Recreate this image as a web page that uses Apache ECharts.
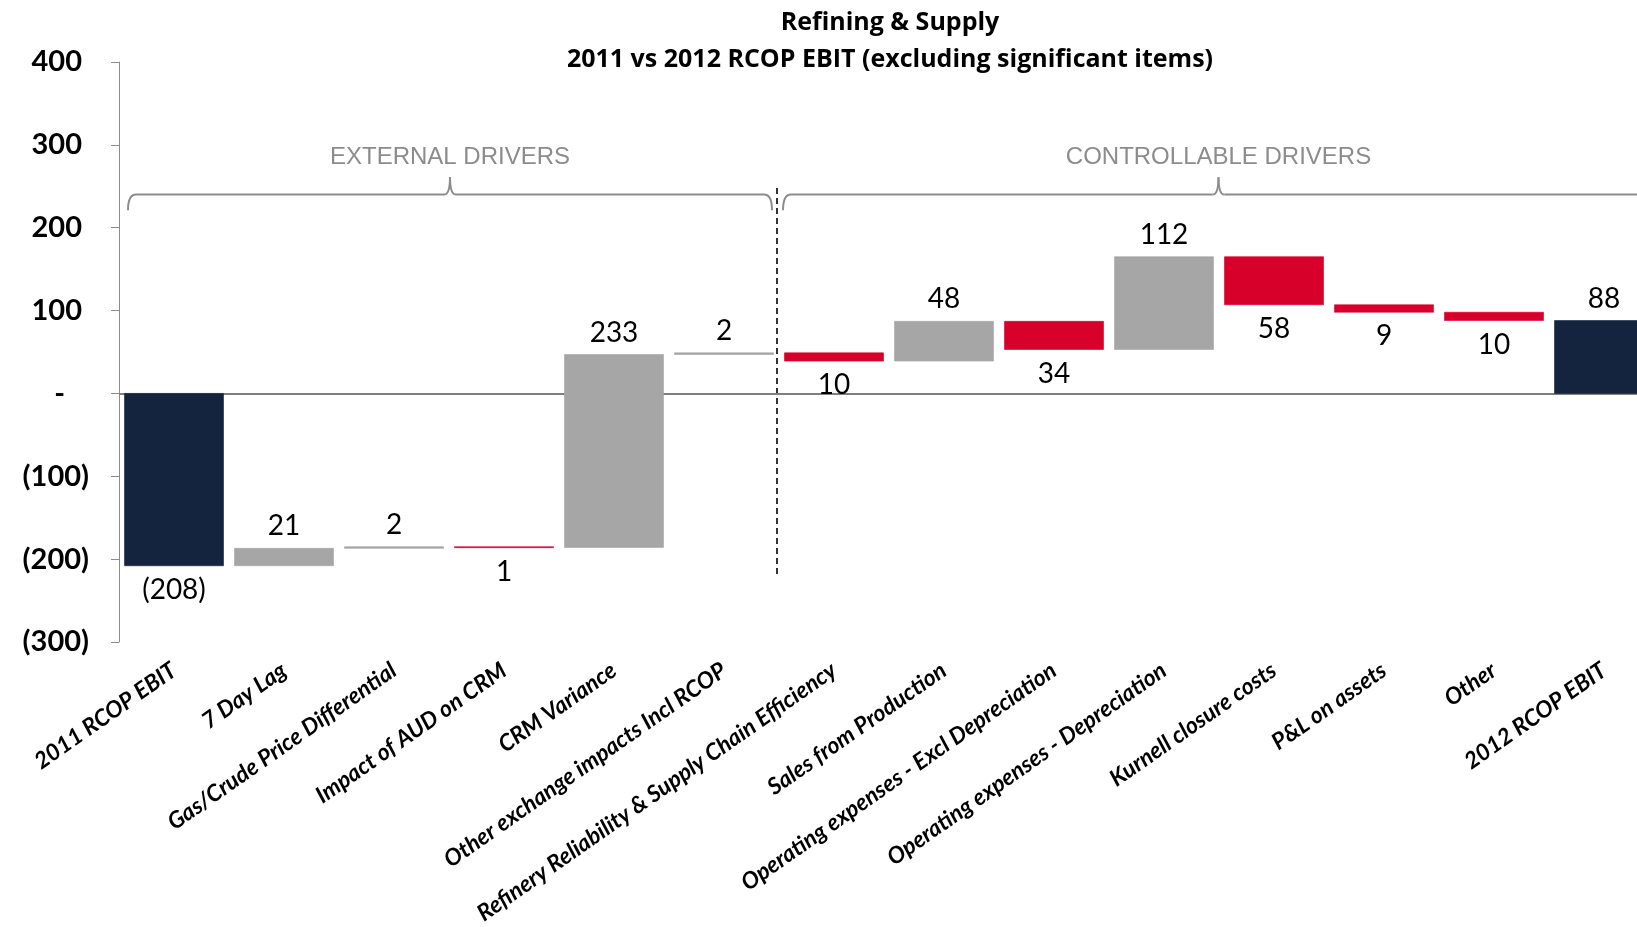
<!DOCTYPE html>
<html>
<head>
<meta charset="utf-8">
<title>Refining &amp; Supply – RCOP EBIT bridge</title>
<script src="https://cdn.jsdelivr.net/npm/echarts@6/dist/echarts.min.js"></script>
<style>
  html, body { margin: 0; padding: 0; background: #ffffff; }
  #chart { width: 1637px; height: 927px; }
</style>
</head>
<body>
<div id="chart"></div>
<script>
// Bridge categories, left to right
const categories = [
  '2011 RCOP EBIT',
  '7 Day Lag',
  'Gas/Crude Price Differential',
  'Impact of AUD on CRM',
  'CRM Variance',
  'Other exchange impacts Incl RCOP',
  'Refinery Reliability & Supply Chain Efficiency',
  'Sales from Production',
  'Operating expenses - Excl Depreciation',
  'Operating expenses - Depreciation',
  'Kurnell closure costs',
  'P&L on assets',
  'Other',
  '2012 RCOP EBIT'
];

// Opening and closing totals ($m)
const openingEbit = -208;
const closingEbit = 88;

// Year-on-year movements between the two totals ($m)
const movements = [21, 2, -1, 233, 2, -10, 48, -34, 112, -58, -9, -10];

// Value axis ticks
const yMin = -300;
const yMax = 400;
const yStep = 100;

// Driver groupings shown with braces above the bars (category index ranges)
const driverGroups = [
  { name: 'EXTERNAL DRIVERS', from: 0, to: 5 },
  { name: 'CONTROLLABLE DRIVERS', from: 6, to: 13 }
];

const NAVY = '#14243E';
const GREY = '#A6A6A6';
const RED = '#D7002A';
const FONT = 'Lato, "Open Sans", sans-serif';
const TITLE_FONT = '"Open Sans", Lato, sans-serif';

// Build waterfall rows: [categoryIndex, low, high]
const rows = [];
const meta = [];
rows.push([0, Math.min(0, openingEbit), Math.max(0, openingEbit)]);
meta.push({ kind: 'total', value: openingEbit });
let running = openingEbit;
movements.forEach((m, k) => {
  const next = running + m;
  rows.push([k + 1, Math.min(running, next), Math.max(running, next)]);
  meta.push({ kind: 'move', value: m });
  running = next;
});
rows.push([categories.length - 1, Math.min(0, closingEbit), Math.max(0, closingEbit)]);
meta.push({ kind: 'total', value: closingEbit });

function labelText(m) {
  if (m.kind === 'total' && m.value < 0) return '(' + (-m.value) + ')';
  return String(Math.abs(m.value));
}

function fillFor(m) {
  if (m.kind === 'total') return NAVY;
  return m.value >= 0 ? GREY : RED;
}

const chart = echarts.init(document.getElementById('chart'), null, { renderer: 'canvas' });

const option = {
  backgroundColor: '#ffffff',
  animation: false,
  title: {
    text: 'Refining & Supply\n2011 vs 2012 RCOP EBIT (excluding significant items)',
    left: 890,
    top: 4,
    padding: 0,
    textAlign: 'center',
    textStyle: {
      fontFamily: TITLE_FONT,
      fontWeight: 'bold',
      fontSize: 25,
      lineHeight: 37,
      color: '#000000'
    }
  },
  grid: {
    left: 119,
    top: 62,
    width: 1540,
    bottom: 285,
    containLabel: false,
    outerBoundsMode: 'none'
  },
  xAxis: {
    type: 'category',
    data: categories,
    axisLine: { show: false },
    axisTick: { show: false },
    axisLabel: {
      interval: 0,
      rotate: 35,
      margin: 26,
      fontFamily: FONT,
      fontStyle: 'italic',
      fontWeight: 'bold',
      fontSize: 23,
      color: '#000000'
    },
    splitLine: { show: false }
  },
  yAxis: {
    type: 'value',
    min: yMin,
    max: yMax,
    interval: yStep,
    axisLine: { show: true, lineStyle: { color: '#8C8C8C', width: 1 } },
    axisTick: { show: true, length: 8, lineStyle: { color: '#8C8C8C' } },
    splitLine: { show: false },
    axisLabel: {
      margin: 30,
      formatter: function (v) {
        if (v > 0) return '{p|' + v + '}';
        if (v === 0) return '{z|-}';
        return '{n|(' + (-v) + ')}';
      },
      rich: {
        p: { fontFamily: FONT, fontWeight: 'bold', fontSize: 29, color: '#000', padding: [0, 7, 0, 0] },
        z: { fontFamily: FONT, fontWeight: 'bold', fontSize: 29, color: '#000', padding: [0, 24, 0, 0] },
        n: { fontFamily: FONT, fontWeight: 'bold', fontSize: 29, color: '#000' }
      }
    }
  },
  series: [{
    type: 'custom',
    data: rows,
    encode: { x: 0, y: [1, 2] },
    clip: false,
    renderItem: function (params, api) {
      const m = meta[params.dataIndex];
      const idx = api.value(0);
      const lo = api.value(1);
      const hi = api.value(2);
      const pTop = api.coord([idx, hi]);
      const pBot = api.coord([idx, lo]);
      const w = api.size([1, 0])[0] * 0.9;
      const h = Math.max(pBot[1] - pTop[1], 1);
      const fill = fillFor(m);
      const above = m.value >= 0;
      return {
        type: 'group',
        children: [
          {
            type: 'rect',
            shape: { x: pTop[0] - w / 2, y: pTop[1], width: w, height: h },
            style: { fill: fill, stroke: fill, lineWidth: 0.6 }
          },
          {
            type: 'text',
            x: pTop[0],
            y: above ? pTop[1] - 8 : pTop[1] + h + 10,
            style: {
              text: labelText(m),
              fill: '#000000',
              fontFamily: FONT,
              fontSize: 28,
              align: 'center',
              verticalAlign: above ? 'bottom' : 'top'
            }
          }
        ]
      };
    },
    markLine: {
      silent: true,
      symbol: 'none',
      label: { show: false },
      lineStyle: { color: '#7F7F7F', width: 2, type: 'solid' },
      data: [{ yAxis: 0 }],
      z: 1
    },
    z: 2
  }]
};

chart.setOption(option);

// Braces, group titles and the dashed divider, positioned from the axes
function toPx(cat, val) {
  return chart.convertToPixel({ gridIndex: 0 }, [cat, val]);
}

const c0 = toPx(0, 0)[0];
const c1 = toPx(1, 0)[0];
const band = c1 - c0;
const edge = (i) => c0 + (i - 0.5) * band; // left edge of category i
const yBrace = toPx(0, 240)[1];
const yEnd = toPx(0, 221)[1];
const yPeak = toPx(0, 261)[1];
const yText = toPx(0, 285)[1];
const BRACE = '#8C8C8C';

function brace(x1, x2) {
  const cx = (x1 + x2) / 2;
  const r = 8;
  const style = { stroke: BRACE, lineWidth: 2, fill: 'none' };
  return [
    { type: 'bezierCurve', shape: { x1: x1, y1: yEnd, cpx1: x1, cpy1: yBrace, x2: x1 + r, y2: yBrace }, style: style, silent: true },
    { type: 'line', shape: { x1: x1 + r, y1: yBrace, x2: cx - 6, y2: yBrace }, style: style, silent: true },
    { type: 'bezierCurve', shape: { x1: cx - 6, y1: yBrace, cpx1: cx, cpy1: yBrace, x2: cx, y2: yPeak }, style: style, silent: true },
    { type: 'bezierCurve', shape: { x1: cx + 6, y1: yBrace, cpx1: cx, cpy1: yBrace, x2: cx, y2: yPeak }, style: style, silent: true },
    { type: 'line', shape: { x1: cx + 6, y1: yBrace, x2: x2 - r, y2: yBrace }, style: style, silent: true },
    { type: 'bezierCurve', shape: { x1: x2 - r, y1: yBrace, cpx1: x2, cpy1: yBrace, x2: x2, y2: yEnd }, style: style, silent: true }
  ];
}

// Divider sits just left of the first controllable category
const divider = edge(driverGroups[1].from) - 2;
const gRightEdge = edge(categories.length);
const extL = edge(driverGroups[0].from) + 9;
const extR = divider - 5;
const ctlL = divider + 6;
const ctlR = gRightEdge - 5;

const graphics = []
  .concat(brace(extL, extR))
  .concat(brace(ctlL, ctlR))
  .concat([
    {
      type: 'text', x: (extL + extR) / 2, y: yText, silent: true,
      style: { text: driverGroups[0].name, fill: '#8C8C8C', fontFamily: '"Liberation Sans", Arial, sans-serif', fontSize: 24, align: 'center', verticalAlign: 'middle' }
    },
    {
      type: 'text', x: (ctlL + ctlR) / 2, y: yText, silent: true,
      style: { text: driverGroups[1].name, fill: '#8C8C8C', fontFamily: '"Liberation Sans", Arial, sans-serif', fontSize: 24, align: 'center', verticalAlign: 'middle' }
    },
    {
      type: 'line', silent: true,
      shape: { x1: divider, y1: toPx(0, 248)[1], x2: divider, y2: toPx(0, -218)[1] },
      style: { stroke: '#000000', lineWidth: 1.6, lineDash: [6, 4] }
    }
  ]);

chart.setOption({ graphic: graphics });
</script>
</body>
</html>
